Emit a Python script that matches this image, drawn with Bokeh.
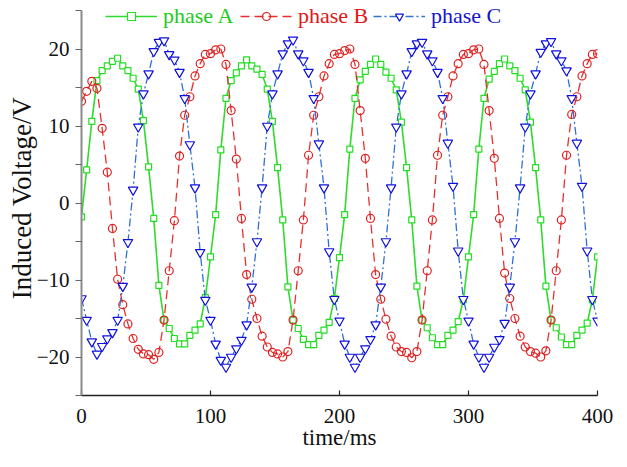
from bokeh.plotting import figure
from bokeh.models import Range1d, FixedTicker, Legend, LegendItem
from bokeh.embed import file_html
from bokeh.resources import INLINE

# ---- data ----
time_ms = list(range(0, 401, 4))

phase_a = [
    -1.8, 4.3, 10.6, 15.9, 17.2, 17.8, 18.4, 18.8, 17.8, 17.2, 16.2, 14.8, 10.7, 4.7, -2.0,
    -10.7, -15.2, -16.3, -17.6, -18.3, -18.3, -17.2, -16.5, -15.7, -12.3,
    -7.0, -1.5, 6.9, 13.6, 15.9, 16.9, 17.8, 18.6, 17.8, 17.4, 16.7, 14.8, 10.6, 4.6, -2.2,
    -10.9, -15.2, -16.3, -17.7, -18.4, -18.4, -17.2, -16.5, -15.5, -12.4,
    -7.1, -1.5, 7.0, 13.6, 16.0, 17.1, 18.0, 18.7, 18.0, 17.0, 16.2, 14.7, 10.5, 4.6, -2.2,
    -10.8, -15.2, -16.2, -17.5, -18.4, -18.4, -17.2, -16.5, -15.4, -12.6,
    -7.0, -1.5, 7.0, 13.6, 16.1, 17.1, 18.1, 18.7, 17.8, 17.2, 16.2, 14.7, 10.5, 4.6, -2.2,
    -10.8, -15.2, -16.2, -17.4, -18.4, -18.4, -17.2, -16.5, -15.6, -12.6, -7.0,
]

phase_b = [
    13.2, 14.5, 15.8, 14.9, 9.7, 4.0, -3.3, -9.9, -13.2, -15.7, -17.6, -19.0, -19.6, -19.7,
    -20.3, -19.4, -15.2, -8.8, -2.3, 6.1, 11.4, 13.8, 16.5, 18.1, 19.3,
    19.4, 19.9, 20.0, 18.0, 12.0, 5.7, -2.0, -9.3, -12.5, -15.0, -17.3, -18.7, -19.4, -19.6,
    -20.0, -19.3, -15.2, -8.8, -2.2, 6.2, 11.4, 13.8, 16.5, 18.1, 19.3,
    19.4, 19.8, 20.0, 18.0, 12.0, 5.8, -2.0, -9.3, -12.5, -15.1, -17.3, -18.7, -19.3, -19.4,
    -20.1, -19.3, -15.2, -8.8, -2.2, 6.2, 11.4, 13.8, 16.5, 18.1, 19.3,
    19.4, 19.9, 20.0, 18.0, 12.0, 5.8, -2.0, -9.1, -12.4, -15.0, -17.3, -18.7, -19.3, -19.5,
    -20.0, -19.2, -15.2, -8.8, -2.2, 6.2, 11.5, 13.8, 16.5, 18.1, 19.3, 19.4,
]

phase_c = [
    -12.4, -15.2, -18.0, -19.6, -18.6, -17.6, -16.8, -15.2, -10.8, -5.1, 1.7, 9.9, 14.2, 16.8,
    19.7, 20.9, 21.1, 19.3, 18.6, 17.0, 13.6, 7.6, 2.0, -6.4, -12.6,
    -15.2, -18.3, -20.4, -21.3, -20.0, -18.9, -17.8, -15.8, -10.9, -5.0, 2.0, 10.0, 14.2, 16.8,
    19.4, 20.7, 21.2, 19.4, 18.5, 17.0, 13.6, 7.7, 2.0, -6.3, -12.5,
    -15.3, -18.3, -20.0, -21.3, -20.0, -18.9, -17.7, -15.8, -10.9, -5.0, 2.0, 9.9, 14.2, 16.8,
    19.7, 20.7, 20.9, 19.4, 18.5, 17.0, 13.6, 7.8, 2.2, -6.2, -12.5,
    -15.3, -18.3, -20.0, -21.3, -20.0, -18.7, -17.7, -15.6, -10.9, -5.0, 2.0, 9.9, 14.2, 16.8,
    19.6, 20.7, 21.0, 19.4, 18.5, 17.2, 13.6, 7.8, 2.2, -6.2, -12.5, -15.3,
]

series_names = ["phase A", "phase B", "phase C"]
x_ticks = [0, 100, 200, 300, 400]
y_ticks = [-20, -10, 0, 10, 20]
y_minor_ticks = [-25, -15, -5, 5, 15, 25]

FONT = "Liberation Serif"

# frame spans the full top edge; the y axis line itself stops at 25
p = figure(width=627, height=467, output_backend="svg", toolbar_location=None,
           x_range=Range1d(0, 400), y_range=Range1d(-25, 26.3),
           min_border_left=81, min_border_right=30, min_border_top=0, min_border_bottom=72)
p.outline_line_color = None
p.xgrid.visible = False
p.ygrid.visible = False
p.background_fill_color = "white"
p.border_fill_color = "white"

# series A: green solid, squares
la = p.line(time_ms, phase_a, line_color="#2ddc2d", line_width=1.6)
ma = p.scatter(time_ms, phase_a, marker="square", size=6, line_color="#22dd22",
               fill_color="white", line_width=1.2)
# series B: red dashed, circles
lb = p.line(time_ms, phase_b, line_color="#e63030", line_width=1.3, line_dash="9 5")
mb = p.scatter(time_ms, phase_b, marker="circle", size=8, line_color="#e02020",
               fill_color=None, line_width=1.2)
# series C: blue dash-dot, inverted triangles
lc = p.line(time_ms, phase_c, line_color="#3070d0", line_width=1.3, line_dash="8 3 2 3")
mc = p.scatter(time_ms, phase_c, marker="inverted_triangle", size=9.5, line_color="#1010dd",
               fill_color="white", line_width=1.2)

# axes
xa = p.xaxis[0]
xa.ticker = FixedTicker(ticks=x_ticks)
xa.axis_line_color = "#222222"
xa.axis_line_width = 1.6
xa.major_tick_in = 5
xa.major_tick_out = 0
xa.minor_tick_line_color = None
xa.major_tick_line_color = "#222222"
xa.major_tick_line_width = 1.2
xa.major_label_text_font = FONT
xa.major_label_text_font_size = "21px"
xa.major_label_text_color = "#111111"
xa.major_label_standoff = 13
xa.axis_label = "time/ms"
xa.axis_label_text_font = FONT
xa.axis_label_text_font_size = "23px"
xa.axis_label_text_font_style = "normal"
xa.axis_label_text_color = "#111111"
xa.axis_label_standoff = -1

ya = p.yaxis[0]
ya.bounds = (-25, 25)
ya.ticker = FixedTicker(ticks=y_ticks, minor_ticks=y_minor_ticks)
ya.axis_line_color = "#8a8a8a"
ya.axis_line_width = 2
ya.major_tick_in = 0
ya.major_tick_out = 6
ya.minor_tick_in = 0
ya.minor_tick_out = 6
ya.major_tick_line_color = "#666666"
ya.minor_tick_line_color = "#666666"
ya.major_tick_line_width = 1.2
ya.minor_tick_line_width = 1.2
ya.major_label_text_font = FONT
ya.major_label_text_font_size = "21px"
ya.major_label_text_color = "#111111"
ya.major_label_standoff = 6
ya.axis_label = "Induced Voltage/V"
ya.axis_label_text_font = FONT
ya.axis_label_text_font_size = "27px"
ya.axis_label_text_font_style = "normal"
ya.axis_label_text_color = "#111111"
ya.axis_label_standoff = -3

# legends: one per series so each label keeps its own colour
legend_specs = [
    (series_names[0], [la, ma], "#22cc22", 24),
    (series_names[1], [lb, mb], "#e01818", 159),
    (series_names[2], [lc, mc], "#1414cc", 292),
]
for name, rends, col, xoff in legend_specs:
    lg = Legend(items=[LegendItem(label=name, renderers=rends)],
                location=(xoff, 366), orientation="horizontal",
                glyph_width=52, glyph_height=20, label_height=20,
                label_standoff=6, padding=0, margin=0, spacing=0,
                label_text_font=FONT, label_text_font_size="22px",
                label_text_color=col, background_fill_alpha=0,
                border_line_color=None)
    p.add_layout(lg)

open("out.html", "w").write(file_html(p, INLINE))
